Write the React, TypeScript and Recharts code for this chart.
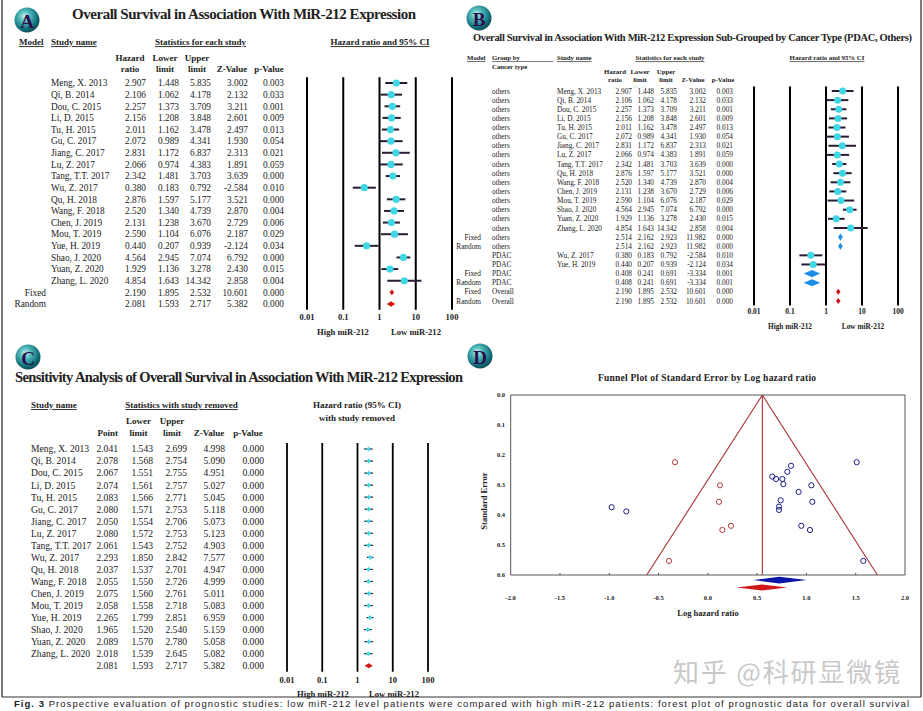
import React from 'react'
import {
  ComposedChart,
  Scatter,
  ErrorBar,
  Area,
  XAxis,
  YAxis,
  ReferenceLine,
  ReferenceArea,
} from 'recharts'

const W = 923
const H = 711
const SERIF = '"Liberation Serif", "Times New Roman", Times, serif'
const SANS = '"Liberation Sans", Arial, sans-serif'
const INK = '#222'
const CYAN = '#3fd6e6'
const CI_LINE = '#2a1c33'
const RED = '#d21414'
const BLUE = '#1d8de8'

// ---- panel A: individual studies ----
const studyNames = [
  'Meng, X. 2013', 'Qi, B. 2014', 'Dou, C. 2015', 'Li, D. 2015', 'Tu, H. 2015', 'Gu, C. 2017',
  'Jiang, C. 2017', 'Lu, Z. 2017', 'Tang, T.T. 2017', 'Wu, Z. 2017', 'Qu, H. 2018', 'Wang, F. 2018',
  'Chen, J. 2019', 'Mou, T. 2019', 'Yue, H. 2019', 'Shao, J. 2020', 'Yuan, Z. 2020', 'Zhang, L. 2020',
]
const hazardRatio = [2.907, 2.106, 2.257, 2.156, 2.011, 2.072, 2.831, 2.066, 2.342, 0.380, 2.876, 2.520, 2.131, 2.590, 0.440, 4.564, 1.929, 4.854]
const lowerLimit = [1.448, 1.062, 1.373, 1.208, 1.162, 0.989, 1.172, 0.974, 1.481, 0.183, 1.597, 1.340, 1.238, 1.104, 0.207, 2.945, 1.136, 1.643]
const upperLimit = [5.835, 4.178, 3.709, 3.848, 3.478, 4.341, 6.837, 4.383, 3.703, 0.792, 5.177, 4.739, 3.670, 6.076, 0.939, 7.074, 3.278, 14.342]
const zValue = [3.002, 2.132, 3.211, 2.601, 2.497, 1.930, 2.313, 1.891, 3.639, -2.584, 3.521, 2.870, 2.729, 2.187, -2.124, 6.792, 2.430, 2.858]
const pValue = [0.003, 0.033, 0.001, 0.009, 0.013, 0.054, 0.021, 0.059, 0.000, 0.010, 0.000, 0.004, 0.006, 0.029, 0.034, 0.000, 0.015, 0.004]

const pooledModel = ['Fixed', 'Random']
const pooledHR = [2.190, 2.081]
const pooledLower = [1.895, 1.593]
const pooledUpper = [2.532, 2.717]
const pooledZ = [10.601, 5.382]
const pooledP = [0.000, 0.000]

// ---- panel B: sub-grouped by cancer type ----
const subModel = [
  '', '', '', '', '', '', '', '', '', '', '', '', '', '', '', '',
  'Fixed', 'Random', '', '', 'Fixed', 'Random', 'Fixed', 'Random',
]
const subGroup = [
  'others', 'others', 'others', 'others', 'others', 'others', 'others', 'others',
  'others', 'others', 'others', 'others', 'others', 'others', 'others', 'others',
  'others', 'others', 'PDAC', 'PDAC', 'PDAC', 'PDAC', 'Overall', 'Overall',
]
const subStudy = [
  'Meng, X. 2013', 'Qi, B. 2014', 'Dou, C. 2015', 'Li, D. 2015', 'Tu, H. 2015', 'Gu, C. 2017',
  'Jiang, C. 2017', 'Lu, Z. 2017', 'Tang, T.T. 2017', 'Qu, H. 2018', 'Wang, F. 2018', 'Chen, J. 2019',
  'Mou, T. 2019', 'Shao, J. 2020', 'Yuan, Z. 2020', 'Zhang, L. 2020', '', '',
  'Wu, Z. 2017', 'Yue, H. 2019', '', '', '', '',
]
const subHR = [2.907, 2.106, 2.257, 2.156, 2.011, 2.072, 2.831, 2.066, 2.342, 2.876, 2.520, 2.131, 2.590, 4.564, 1.929, 4.854, 2.514, 2.514, 0.380, 0.440, 0.408, 0.408, 2.190, 2.190]
const subLower = [1.448, 1.062, 1.373, 1.208, 1.162, 0.989, 1.172, 0.974, 1.481, 1.597, 1.340, 1.238, 1.104, 2.945, 1.136, 1.643, 2.162, 2.162, 0.183, 0.207, 0.241, 0.241, 1.895, 1.895]
const subUpper = [5.835, 4.178, 3.709, 3.848, 3.478, 4.341, 6.837, 4.383, 3.703, 5.177, 4.739, 3.670, 6.076, 7.074, 3.278, 14.342, 2.923, 2.923, 0.792, 0.939, 0.691, 0.691, 2.532, 2.532]
const subZ = [3.002, 2.132, 3.211, 2.601, 2.497, 1.930, 2.313, 1.891, 3.639, 3.521, 2.870, 2.729, 2.187, 6.792, 2.430, 2.858, 11.982, 11.982, -2.584, -2.124, -3.334, -3.334, 10.601, 10.601]
const subP = [0.003, 0.033, 0.001, 0.009, 0.013, 0.054, 0.021, 0.059, 0.000, 0.000, 0.004, 0.006, 0.029, 0.000, 0.015, 0.004, 0.000, 0.000, 0.010, 0.034, 0.001, 0.001, 0.000, 0.000]
const subKind = [
  'study', 'study', 'study', 'study', 'study', 'study', 'study', 'study',
  'study', 'study', 'study', 'study', 'study', 'study', 'study', 'study',
  'subtotal', 'subtotal', 'study', 'study', 'subtotal', 'subtotal', 'overall', 'overall',
]

// ---- panel C: leave-one-out ----
const sensPoint = [2.041, 2.078, 2.067, 2.074, 2.083, 2.080, 2.050, 2.080, 2.061, 2.293, 2.037, 2.055, 2.075, 2.058, 2.265, 1.965, 2.089, 2.018]
const sensLower = [1.543, 1.568, 1.551, 1.561, 1.566, 1.571, 1.554, 1.572, 1.543, 1.850, 1.537, 1.550, 1.560, 1.558, 1.799, 1.520, 1.570, 1.539]
const sensUpper = [2.699, 2.754, 2.755, 2.757, 2.771, 2.753, 2.706, 2.753, 2.752, 2.842, 2.701, 2.726, 2.761, 2.718, 2.851, 2.540, 2.780, 2.645]
const sensZ = [4.998, 5.090, 4.951, 5.027, 5.045, 5.118, 5.073, 5.123, 4.903, 7.577, 4.947, 4.999, 5.011, 5.083, 6.959, 5.159, 5.058, 5.082]
const sensP = [0, 0, 0, 0, 0, 0, 0, 0, 0, 0, 0, 0, 0, 0, 0, 0, 0, 0]
const sensPooled = [2.081, 1.593, 2.717, 5.382, 0.000] // point, lower, upper, z, p

// ---- panel D: funnel ----
const funnelLogHR = [1.060, 0.739, 0.806, 0.766, 0.692, 0.722, 1.036, 0.722, 0.844, -0.976, 1.050, 0.921, 0.756, 0.948, -0.827, 1.510, 0.654, 1.577]
const funnelSE = [0.356, 0.351, 0.256, 0.297, 0.280, 0.372, 0.450, 0.383, 0.236, 0.374, 0.301, 0.323, 0.280, 0.436, 0.388, 0.224, 0.272, 0.553]
const imputedLogHR = [-0.333, 0.123, 0.113, 0.235, 0.147, -0.394]
const imputedSE = [0.224, 0.301, 0.356, 0.436, 0.450, 0.553]
const observedEffect = [0.462, 0.725, 1.003] // lower, point, upper
const adjustedEffect = [0.292, 0.55, 0.806]
const funnelCenter = 0.553
const funnelEdges = [-0.62, 1.72] // at SE = 0.6
const funnelTicksX = [-2, -1.5, -1, -0.5, 0, 0.5, 1, 1.5, 2]
const funnelTicksY = [0, 0.1, 0.2, 0.3, 0.4, 0.5, 0.6]

const logTicks = [0.01, 0.1, 1, 10, 100]

const f3 = (v: number) => v.toFixed(3)

const diamond = (lo: number, mid: number, hi: number, y: number, hh: number) => [
  { x: lo, band: [y, y] },
  { x: mid, band: [y - hh, y + hh] },
  { x: hi, band: [y, y] },
]

type Col = { x: number; anchor: 'start' | 'middle' | 'end'; cells: string[] }

function RowTick(props: any) {
  const { y, payload, cols, size } = props
  const i = Math.round(payload.value)
  return (
    <g>
      {cols.map((c: Col, k: number) => (
        <text key={k} x={c.x} y={y} dy="0.35em" textAnchor={c.anchor} fontFamily={SERIF} fontSize={size} fill={INK}>
          {c.cells[i]}
        </text>
      ))}
    </g>
  )
}

const circleMarker = (r: number) => (p: any) => <circle cx={p.cx} cy={p.cy} r={r} fill={CYAN} />
const smallDiamond = (p: any) => (
  <polygon
    points={`${p.cx - 2.2},${p.cy} ${p.cx},${p.cy - 2.6} ${p.cx + 2.2},${p.cy} ${p.cx},${p.cy + 2.6}`}
    fill={CYAN}
  />
)
const openCircle = (color: string) => (p: any) => (
  <circle cx={p.cx} cy={p.cy} r={2.6} fill="none" stroke={color} strokeWidth={1} />
)

function Forest(props: any) {
  const { left, right, top, rowH, rows, cols, fontSize, axisFont, axisGap, points, marker, diamonds, ciWidth, lineWidth } = props
  const bottom = top + rows * rowH
  const rowIdx = Array.from({ length: rows }, (_, i) => i)
  return (
    <div style={{ position: 'absolute', left: 0, top: 0 }}>
      <ComposedChart width={W} height={H} margin={{ top, right: W - right, bottom: H - bottom - 20, left: 0 }}>
        <XAxis
          type="number"
          dataKey="x"
          scale="log"
          domain={[0.01, 100]}
          allowDataOverflow
          ticks={logTicks}
          interval={0}
          tickFormatter={(v: number) => String(v)}
          axisLine={false}
          tickLine={false}
          tickSize={0}
          tickMargin={axisGap}
          height={20}
          tick={{ fontFamily: SERIF, fontSize: axisFont, fontWeight: 700, fill: INK }}
        />
        <YAxis
          type="number"
          dataKey="y"
          domain={[-0.5, rows - 0.5]}
          allowDataOverflow
          reversed
          ticks={rowIdx}
          interval={0}
          width={left}
          axisLine={false}
          tickLine={false}
          tickSize={0}
          tick={(p: any) => <RowTick {...p} cols={cols} size={fontSize} />}
        />
        {logTicks.map((t) => (
          <ReferenceLine key={t} x={t} stroke="#000" strokeWidth={lineWidth} ifOverflow="visible" />
        ))}
        {diamonds.map((d: any, i: number) => (
          <Area
            key={i}
            data={d.pts}
            dataKey="band"
            type="linear"
            stroke="none"
            fill={d.color}
            fillOpacity={1}
            dot={false}
            activeDot={false}
            isAnimationActive={false}
          />
        ))}
        <Scatter data={points} shape={marker} isAnimationActive={false}>
          <ErrorBar dataKey="err" direction="x" width={0} stroke={CI_LINE} strokeWidth={ciWidth} isAnimationActive={false} />
        </Scatter>
      </ComposedChart>
    </div>
  )
}

function Txt(props: any) {
  const { x, y, children, size = 9, bold = false, anchor = 'start', underline = false, family = SERIF, fill = INK, ...rest } = props
  return (
    <text
      x={x}
      y={y}
      dy="0.35em"
      fontSize={size}
      fontWeight={bold ? 700 : 400}
      textAnchor={anchor}
      fontFamily={family}
      fill={fill}
      style={underline ? { textDecoration: 'underline' } : undefined}
      {...rest}
    >
      {children}
    </text>
  )
}

function Badge({ cx, cy, letter }: { cx: number; cy: number; letter: string }) {
  return (
    <g>
      <circle cx={cx} cy={cy} r={12.5} fill="url(#badgeGrad)" />
      <text x={cx} y={cy + 1} dy="0.35em" textAnchor="middle" fontFamily={SERIF} fontWeight={700} fontSize={19} fill="#2a0d4d">
        {letter}
      </text>
    </g>
  )
}

export default function App() {
  // panel A
  const aPoints = studyNames.map((_, i) => ({
    x: hazardRatio[i],
    y: i,
    err: [hazardRatio[i] - lowerLimit[i], upperLimit[i] - hazardRatio[i]],
  }))
  const aDiamonds = pooledHR.map((hr, k) => ({
    color: RED,
    pts: diamond(pooledLower[k], hr, pooledUpper[k], studyNames.length + k, 0.24),
  }))
  const blank = studyNames.map(() => '')
  const aCols: Col[] = [
    { x: 46, anchor: 'end', cells: [...blank, ...pooledModel] },
    { x: 51, anchor: 'start', cells: [...studyNames, '', ''] },
    { x: 146, anchor: 'end', cells: [...hazardRatio, ...pooledHR].map(f3) },
    { x: 179, anchor: 'end', cells: [...lowerLimit, ...pooledLower].map(f3) },
    { x: 211, anchor: 'end', cells: [...upperLimit, ...pooledUpper].map(f3) },
    { x: 248, anchor: 'end', cells: [...zValue, ...pooledZ].map(f3) },
    { x: 284, anchor: 'end', cells: [...pValue, ...pooledP].map(f3) },
  ]

  // panel B
  const bPoints = subHR
    .map((hr, i) => ({ x: hr, y: i, err: [hr - subLower[i], subUpper[i] - hr], kind: subKind[i] }))
    .filter((p) => p.kind === 'study')
  const bDiamonds = subHR
    .map((hr, i) => ({ hr, i, kind: subKind[i] }))
    .filter((d) => d.kind !== 'study')
    .map((d) => ({
      color: d.kind === 'overall' ? RED : BLUE,
      pts: diamond(subLower[d.i], d.hr, subUpper[d.i], d.i, d.kind === 'overall' ? 0.33 : 0.39),
    }))
  const bCols: Col[] = [
    { x: 481, anchor: 'end', cells: subModel },
    { x: 492, anchor: 'start', cells: subGroup },
    { x: 557, anchor: 'start', cells: subStudy },
    { x: 632, anchor: 'end', cells: subHR.map(f3) },
    { x: 654, anchor: 'end', cells: subLower.map(f3) },
    { x: 677, anchor: 'end', cells: subUpper.map(f3) },
    { x: 706, anchor: 'end', cells: subZ.map(f3) },
    { x: 733, anchor: 'end', cells: subP.map(f3) },
  ]

  // panel C
  const cPoints = sensPoint.map((v, i) => ({ x: v, y: i, err: [v - sensLower[i], sensUpper[i] - v] }))
  const cDiamonds = [
    { color: RED, pts: diamond(sensPooled[1], sensPooled[0], sensPooled[2], sensPoint.length, 0.21) },
  ]
  const cCols: Col[] = [
    { x: 31, anchor: 'start', cells: [...studyNames, ''] },
    { x: 118, anchor: 'end', cells: [...sensPoint, sensPooled[0]].map(f3) },
    { x: 153, anchor: 'end', cells: [...sensLower, sensPooled[1]].map(f3) },
    { x: 187, anchor: 'end', cells: [...sensUpper, sensPooled[2]].map(f3) },
    { x: 225, anchor: 'end', cells: [...sensZ, sensPooled[3]].map(f3) },
    { x: 264, anchor: 'end', cells: [...sensP, sensPooled[4]].map(f3) },
  ]

  // panel D
  const observedPts = funnelLogHR.map((x, i) => ({ x, y: funnelSE[i] }))
  const imputedPts = imputedLogHR.map((x, i) => ({ x, y: imputedSE[i] }))
  const FUNNEL = '#a83232'
  const dTick = { fontFamily: SERIF, fontSize: 6.5, fontWeight: 700, fill: INK }

  return (
    <div style={{ position: 'absolute', left: 0, top: 0, width: W, height: H, background: '#fff', overflow: 'hidden' }}>
      <Forest
        left={307} right={452} top={77.2} rowH={11.63} rows={20}
        cols={aCols} fontSize={9.3} axisFont={8.6} axisGap={4}
        points={aPoints} marker={circleMarker(3.6)} diamonds={aDiamonds} ciWidth={2} lineWidth={2}
      />
      <Forest
        left={754} right={898} top={86.43} rowH={9.13} rows={24}
        cols={bCols} fontSize={7.3} axisFont={7.5} axisGap={3.6}
        points={bPoints} marker={circleMarker(3.5)} diamonds={bDiamonds} ciWidth={2} lineWidth={2}
      />
      <Forest
        left={287} right={428} top={443} rowH={12.04} rows={19}
        cols={cCols} fontSize={9.6} axisFont={8.6} axisGap={5}
        points={cPoints} marker={smallDiamond} diamonds={cDiamonds} ciWidth={1.2} lineWidth={1.8}
      />

      <div style={{ position: 'absolute', left: 0, top: 0 }}>
        <ComposedChart width={W} height={H} margin={{ top: 395, right: 18, bottom: 98, left: 0 }}>
          <XAxis
            type="number"
            dataKey="x"
            domain={[-2, 2]}
            allowDataOverflow
            ticks={funnelTicksX}
            interval={0}
            tickFormatter={(v: number) => v.toFixed(1)}
            axisLine={false}
            tickLine={false}
            tickSize={0}
            tickMargin={2.7}
            height={20}
            tick={dTick}
          />
          <YAxis
            type="number"
            dataKey="y"
            domain={[0, 0.66]}
            allowDataOverflow
            reversed
            ticks={funnelTicksY}
            interval={0}
            tickFormatter={(v: number) => v.toFixed(1)}
            width={510.7}
            axisLine={false}
            tickLine={false}
            tickSize={0}
            tickMargin={5.7}
            tick={dTick}
          />
          <ReferenceArea x1={-2} x2={2} y1={0} y2={0.6} fill="none" stroke="#555" strokeWidth={1} ifOverflow="visible" />
          {funnelTicksX.slice(1, -1).map((t) => (
            <ReferenceLine key={t} segment={[{ x: t, y: 0.6 }, { x: t, y: 0.593 }]} stroke="#555" ifOverflow="visible" />
          ))}
          <ReferenceLine segment={[{ x: funnelCenter, y: 0 }, { x: funnelCenter, y: 0.6 }]} stroke={FUNNEL} strokeWidth={1.1} ifOverflow="visible" />
          <ReferenceLine segment={[{ x: funnelCenter, y: 0 }, { x: funnelEdges[0], y: 0.6 }]} stroke={FUNNEL} strokeWidth={1.1} ifOverflow="visible" />
          <ReferenceLine segment={[{ x: funnelCenter, y: 0 }, { x: funnelEdges[1], y: 0.6 }]} stroke={FUNNEL} strokeWidth={1.1} ifOverflow="visible" />
          <Area
            data={diamond(observedEffect[0], observedEffect[1], observedEffect[2], 0.617, 0.011)}
            dataKey="band" type="linear" stroke="none" fill="#0c16a6" fillOpacity={1}
            dot={false} activeDot={false} isAnimationActive={false}
          />
          <Area
            data={diamond(adjustedEffect[0], adjustedEffect[1], adjustedEffect[2], 0.642, 0.01)}
            dataKey="band" type="linear" stroke="none" fill="#d01818" fillOpacity={1}
            dot={false} activeDot={false} isAnimationActive={false}
          />
          <Scatter data={observedPts} shape={openCircle('#1c1c8a')} isAnimationActive={false} />
          <Scatter data={imputedPts} shape={openCircle('#b83a3a')} isAnimationActive={false} />
        </ComposedChart>
      </div>

      <svg width={W} height={H} style={{ position: 'absolute', left: 0, top: 0, pointerEvents: 'none' }}>
        <defs>
          <radialGradient id="badgeGrad" cx="40%" cy="35%" r="65%">
            <stop offset="0%" stopColor="#c8f2f0" />
            <stop offset="35%" stopColor="#4fb8b8" />
            <stop offset="80%" stopColor="#10707a" />
            <stop offset="100%" stopColor="#0b4d57" />
          </radialGradient>
        </defs>

        {/* frame */}
        <line x1={2} y1={0} x2={2} y2={697} stroke="#333" strokeWidth={1.3} />
        <line x1={921} y1={0} x2={921} y2={697} stroke="#333" strokeWidth={1.3} />
        <line x1={2} y1={697} x2={921} y2={697} stroke="#333" strokeWidth={1} />

        {/* A */}
        <Badge cx={27} cy={20} letter="A" />
        <Txt x={72} y={14} size={15} bold textLength={344}>Overall Survival in Association With MiR-212 Expression</Txt>
        <Txt x={19} y={42} bold underline>Model</Txt>
        <Txt x={51} y={42} bold underline>Study name</Txt>
        <Txt x={200.5} y={42} anchor="middle" bold underline>Statistics for each study</Txt>
        <Txt x={380} y={42} anchor="middle" bold underline>Hazard ratio and 95% CI</Txt>
        <Txt x={130} y={58} anchor="middle" bold>Hazard</Txt>
        <Txt x={130} y={69} anchor="middle" bold>ratio</Txt>
        <Txt x={165} y={58} anchor="middle" bold>Lower</Txt>
        <Txt x={165} y={69} anchor="middle" bold>limit</Txt>
        <Txt x={197} y={58} anchor="middle" bold>Upper</Txt>
        <Txt x={197} y={69} anchor="middle" bold>limit</Txt>
        <Txt x={232} y={69} anchor="middle" bold>Z-Value</Txt>
        <Txt x={269} y={69} anchor="middle" bold>p-Value</Txt>
        <Txt x={343} y={332} anchor="middle" size={8.6} bold>High miR-212</Txt>
        <Txt x={416} y={332} anchor="middle" size={8.6} bold>Low miR-212</Txt>

        {/* B */}
        <Badge cx={479} cy={18} letter="B" />
        <Txt x={473} y={37} size={10.5} bold textLength={439}>
          Overall Survival in Association With MiR-212 Expression Sub-Grouped by Cancer Type (PDAC, Others)
        </Txt>
        <Txt x={467} y={58} size={6.8} bold underline>Model</Txt>
        <Txt x={492} y={58} size={6.8} bold>Group by</Txt>
        <line x1={492} y1={61.5} x2={553} y2={61.5} stroke={INK} strokeWidth={0.6} />
        <Txt x={492} y={66.5} size={6.8} bold>Cancer type</Txt>
        <Txt x={557} y={58} size={6.8} bold underline>Study name</Txt>
        <Txt x={670} y={58} size={6.8} anchor="middle" bold underline>Statistics for each study</Txt>
        <Txt x={827} y={58} size={6.8} anchor="middle" bold underline>Hazard ratio and 95% CI</Txt>
        <Txt x={615} y={72} size={6.8} anchor="middle" bold>Hazard</Txt>
        <Txt x={615} y={80} size={6.8} anchor="middle" bold>ratio</Txt>
        <Txt x={640} y={72} size={6.8} anchor="middle" bold>Lower</Txt>
        <Txt x={640} y={80} size={6.8} anchor="middle" bold>limit</Txt>
        <Txt x={666} y={72} size={6.8} anchor="middle" bold>Upper</Txt>
        <Txt x={666} y={80} size={6.8} anchor="middle" bold>limit</Txt>
        <Txt x={693} y={80} size={6.8} anchor="middle" bold>Z-Value</Txt>
        <Txt x={723} y={80} size={6.8} anchor="middle" bold>p-Value</Txt>
        <Txt x={790} y={326} anchor="middle" size={7.3} bold>High miR-212</Txt>
        <Txt x={863} y={326} anchor="middle" size={7.3} bold>Low miR-212</Txt>

        {/* C */}
        <Badge cx={28} cy={357} letter="C" />
        <Txt x={15} y={377} size={14.5} bold textLength={448}>
          Sensitivity Analysis of Overall Survival in Association With MiR-212 Expression
        </Txt>
        <Txt x={31} y={405} bold underline>Study name</Txt>
        <Txt x={181.5} y={405} anchor="middle" bold underline>Statistics with study removed</Txt>
        <Txt x={357} y={405} anchor="middle" bold>Hazard ratio (95% CI)</Txt>
        <Txt x={357} y={418} anchor="middle" bold>with study removed</Txt>
        <Txt x={118} y={433} anchor="end" bold>Point</Txt>
        <Txt x={138.5} y={421} anchor="middle" bold>Lower</Txt>
        <Txt x={138.5} y={433} anchor="middle" bold>limit</Txt>
        <Txt x={172} y={421} anchor="middle" bold>Upper</Txt>
        <Txt x={172} y={433} anchor="middle" bold>limit</Txt>
        <Txt x={209} y={433} anchor="middle" bold>Z-Value</Txt>
        <Txt x={248} y={433} anchor="middle" bold>p-Value</Txt>
        <Txt x={323} y={694} anchor="middle" size={8.6} bold>High miR-212</Txt>
        <Txt x={394} y={694} anchor="middle" size={8.6} bold>Low miR-212</Txt>

        {/* D */}
        <Badge cx={480} cy={356} letter="D" />
        <Txt x={598} y={378} size={9.5} bold textLength={218}>Funnel Plot of Standard Error by Log hazard ratio</Txt>
        <Txt x={708} y={613} anchor="middle" size={8.5} bold>Log hazard ratio</Txt>
        <Txt x={484} y={501} anchor="middle" size={8.5} bold transform="rotate(-90 484 501)">Standard Error</Txt>

        {/* watermark + caption */}
        <Txt x={673} y={673} size={26} family={'"Noto Sans CJK SC", sans-serif'} fill="#c9c9c9" textLength={227}>
          知乎 @科研显微镜
        </Txt>
        <Txt x={14} y={703.5} size={9.5} family={SANS} fill="#222" textLength={895}>
          <tspan fontWeight={700}>Fig. 3</tspan>
          {'  Prospective evaluation of prognostic studies: low miR-212 level patients were compared with high miR-212 patients: forest plot of prognostic data for overall survival'}
        </Txt>
      </svg>
    </div>
  )
}
